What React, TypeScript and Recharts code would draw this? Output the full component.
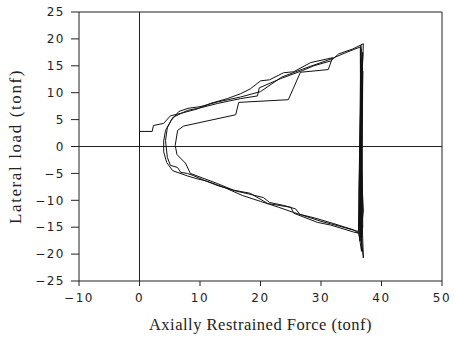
import { LineChart, Line, XAxis, YAxis, ReferenceLine, Label } from 'recharts';

// hysteresis paths: [axial force (tonf), lateral load (tonf)]
const firstCycle: [number, number][] = [
  [0, 0], [0, 2.8], [2.1, 2.8], [2.3, 3.9], [4.0, 4.3], [5.1, 5.7], [7.3, 6.3], [9.6, 7.0],
  [11.7, 8.0], [14.5, 8.9], [16.7, 9.8], [18.3, 10.7], [20, 12.2], [21.5, 12.4], [23.8, 13.7],
  [25.5, 13.9], [28.3, 15.6], [31.9, 16.5], [31.2, 14.3], [26.6, 13.8], [24.6, 8.7], [16.4, 8.2],
  [15.9, 5.9], [7.3, 3.8], [6.3, 3.0], [5.9, 0.2], [6.2, -1.5], [7.6, -3.1], [8.4, -5],
  [12.9, -6.9], [15.5, -8.1], [18.3, -8.7], [21.2, -10.6], [25, -11.3], [25.5, -12.4],
  [29.4, -14.1], [31.6, -14.6], [35.4, -15.9], [36.2, -16.1],
];

const secondCycle: [number, number][] = [
  [36.2, -16.1], [35.4, -15.5], [32, -14.3], [29, -13.3], [26.5, -12.6], [25.8, -11.6], [24, -11],
  [21.5, -10.4], [20.5, -9.5], [18, -8.8], [16, -8.3], [13, -7.3], [10.5, -6.2], [8.9, -5.4],
  [7.9, -5], [6.8, -4.8], [6.3, -3.9], [5.1, -3.5], [4.6, -2], [4.3, 1.1], [4.6, 3.5], [5.5, 5.4],
  [7.9, 6.7], [10.1, 7.2], [12.9, 8.0], [15, 8.5], [16.7, 8.9], [19.5, 9.4], [19.8, 10.9],
  [23.3, 12.6], [26.9, 14.1], [28.8, 15], [31.6, 15.9], [32.9, 17.2], [35.2, 18.1], [37, 19.1],
];

const peakCycles: [number, number][] = [
  [37, 19.1], [36.5, 5], [36.3, -8], [36.4, -14], [37, -20.7], [36.8, -14], [37.0, -12],
  [36.5, 0], [36.9, 17.5], [36.3, -16.5], [36.7, -18], [36.6, 18.8], [36.2, -15.8],
  [36.8, 16.5], [36.4, -17.5], [36.9, -15], [36.6, 18.2], [36.5, -16.8], [36.9, 14],
  [36.7, -19.5],
];

const thirdCycle: [number, number][] = [
  [36.7, -19.5], [36.2, -15.8], [33, -14.8], [30, -13.9], [27, -12.8], [25.3, -12.2], [23, -11.3],
  [20, -10.2], [17, -9.1], [14, -7.6], [11, -6.4], [9.5, -6.0], [8, -5.5], [5.5, -4.5], [4.5, -3],
  [4.0, -1], [4.0, 1], [4.3, 3], [5.2, 4.8], [6.5, 6.5], [8, 7.1], [10, 7.4], [13, 8.3], [16.7, 9.2],
  [20, 10.2], [23.5, 12.9], [27, 14.4], [31.5, 16.2], [34, 17.4], [36.5, 18.5], [36.6, -17],
];

const xTicks = [-10, 0, 10, 20, 30, 40, 50];
const yTicks = [-25, -20, -15, -10, -5, 0, 5, 10, 15, 20, 25];

const paths = [firstCycle, secondCycle, peakCycles, thirdCycle];

const fmt = (v: number) => (v < 0 ? `\u2212${Math.abs(v)}` : `${v}`);

const tickStyle = { fontFamily: 'DejaVu Sans', fontSize: 12, fill: '#222', letterSpacing: 1.5 };
const labelFont = 'Liberation Serif';

export default function App() {
  return (
    <div style={{ position: 'absolute', left: 0, top: 0, background: '#fff' }}>
      <LineChart width={454} height={340} margin={{ top: 12, right: 12, bottom: 4, left: 19 }}>
        <XAxis
          type="number"
          dataKey="x"
          domain={[-10, 50]}
          ticks={xTicks}
          tickFormatter={fmt}
          tick={tickStyle}
          tickSize={5}
          tickMargin={7}
          height={55}
          stroke="#222"
          allowDataOverflow
        >
          <Label
            value="Axially Restrained Force (tonf)"
            position="insideBottom"
            offset={6}
            style={{ fontFamily: labelFont, fontSize: 16.5, fill: '#222', letterSpacing: 0.5 }}
          />
        </XAxis>
        <YAxis
          type="number"
          dataKey="y"
          domain={[-25, 25]}
          ticks={yTicks}
          tickFormatter={fmt}
          tick={tickStyle}
          tickSize={8}
          tickMargin={6}
          width={60}
          stroke="#222"
          allowDataOverflow
        >
          <Label
            value="Lateral load (tonf)"
            angle={-90}
            position="insideLeft"
            offset={-4}
            style={{ textAnchor: 'middle', fontFamily: labelFont, fontSize: 17, fill: '#222', letterSpacing: 1.6 }}
          />
        </YAxis>
        <ReferenceLine y={25} stroke="#222" />
        <ReferenceLine x={50} stroke="#222" />
        <ReferenceLine y={0} stroke="#222" />
        <ReferenceLine x={0} stroke="#222" />
        {paths.map((p, i) => (
          <Line
            key={i}
            data={p.map(([x, y]) => ({ x, y }))}
            dataKey="y"
            type="linear"
            stroke="#111"
            strokeWidth={1}
            dot={false}
            isAnimationActive={false}
          />
        ))}
      </LineChart>
    </div>
  );
}
